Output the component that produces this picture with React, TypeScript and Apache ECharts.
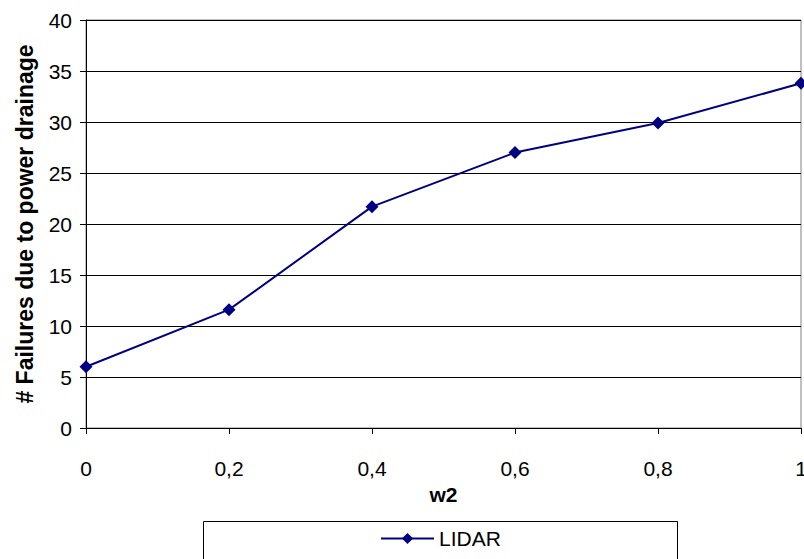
import React, { useEffect, useRef } from "react";
import * as echarts from "echarts";

const xValues = [0, 0.2, 0.4, 0.6, 0.8, 1];
const lidar = [6, 11.6, 21.7, 27, 29.9, 33.8];
const seriesName = "LIDAR";
const xTitle = "w2";
const yTitle = "# Failures due to power drainage";

export default function App() {
  const ref = useRef<HTMLDivElement>(null);
  useEffect(() => {
    const chart = echarts.init(ref.current!, null, { renderer: "svg", width: 804, height: 559 });
    const font = "'Liberation Sans', Arial, sans-serif";
    chart.setOption({
      animation: false,
      backgroundColor: "#ffffff",
      textStyle: { fontFamily: font },
      grid: { left: 86, width: 715, top: 20, height: 408, show: true, borderColor: "#808080", borderWidth: 1, containLabel: false, outerBoundsMode: "none" },
      xAxis: {
        type: "value",
        min: 0,
        max: 1,
        interval: 0.2,
        name: xTitle,
        nameLocation: "middle",
        nameGap: 55,
        nameTextStyle: { fontFamily: font, fontSize: 21, fontWeight: "bold", color: "#000" },
        axisLine: { lineStyle: { color: "#000", width: 1 } },
        axisTick: { show: true, length: 6, lineStyle: { color: "#000" } },
        axisLabel: {
          fontFamily: font, fontSize: 21, color: "#000", margin: 30,
          formatter: (v: number) => String(Math.round(v * 10) / 10).replace(".", ","),
        },
        splitLine: { show: false },
      },
      yAxis: {
        type: "value",
        min: 0,
        max: 40,
        interval: 5,
        name: yTitle,
        nameLocation: "middle",
        nameGap: 50,
        nameTextStyle: { fontFamily: font, fontSize: 23, fontWeight: "bold", color: "#000" },
        axisLine: { show: true, lineStyle: { color: "#000", width: 1 } },
        axisTick: { show: true, length: 6, lineStyle: { color: "#000" } },
        axisLabel: { fontFamily: font, fontSize: 21, color: "#000", margin: 14 },
        splitLine: { show: true, lineStyle: { color: "#000", width: 1 } },
      },
      legend: {
        data: [seriesName],
        left: 380,
        top: 528,
        padding: 0,
        itemWidth: 53,
        itemHeight: 14,
        itemGap: 4,
        textStyle: { fontFamily: font, fontSize: 21, color: "#000", padding: [0, 0, 0, 0] },
      },
      graphic: [
        {
          type: "rect",
          shape: { x: 203.5, y: 521.5, width: 474, height: 50 },
          style: { fill: "none", stroke: "#000", lineWidth: 1 },
          silent: true,
        },
      ],
      series: [
        {
          name: seriesName,
          type: "line",
          data: xValues.map((x, i) => [x, lidar[i]]),
          symbol: "diamond",
          symbolSize: 13,
          color: "#000080",
          lineStyle: { color: "#000080", width: 2 },
          itemStyle: { color: "#000080" },
          clip: false,
        },
      ],
    });
    return () => chart.dispose();
  }, []);
  return <div ref={ref} style={{ width: 804, height: 559, position: "absolute", left: 0, top: 0 }} />;
}
